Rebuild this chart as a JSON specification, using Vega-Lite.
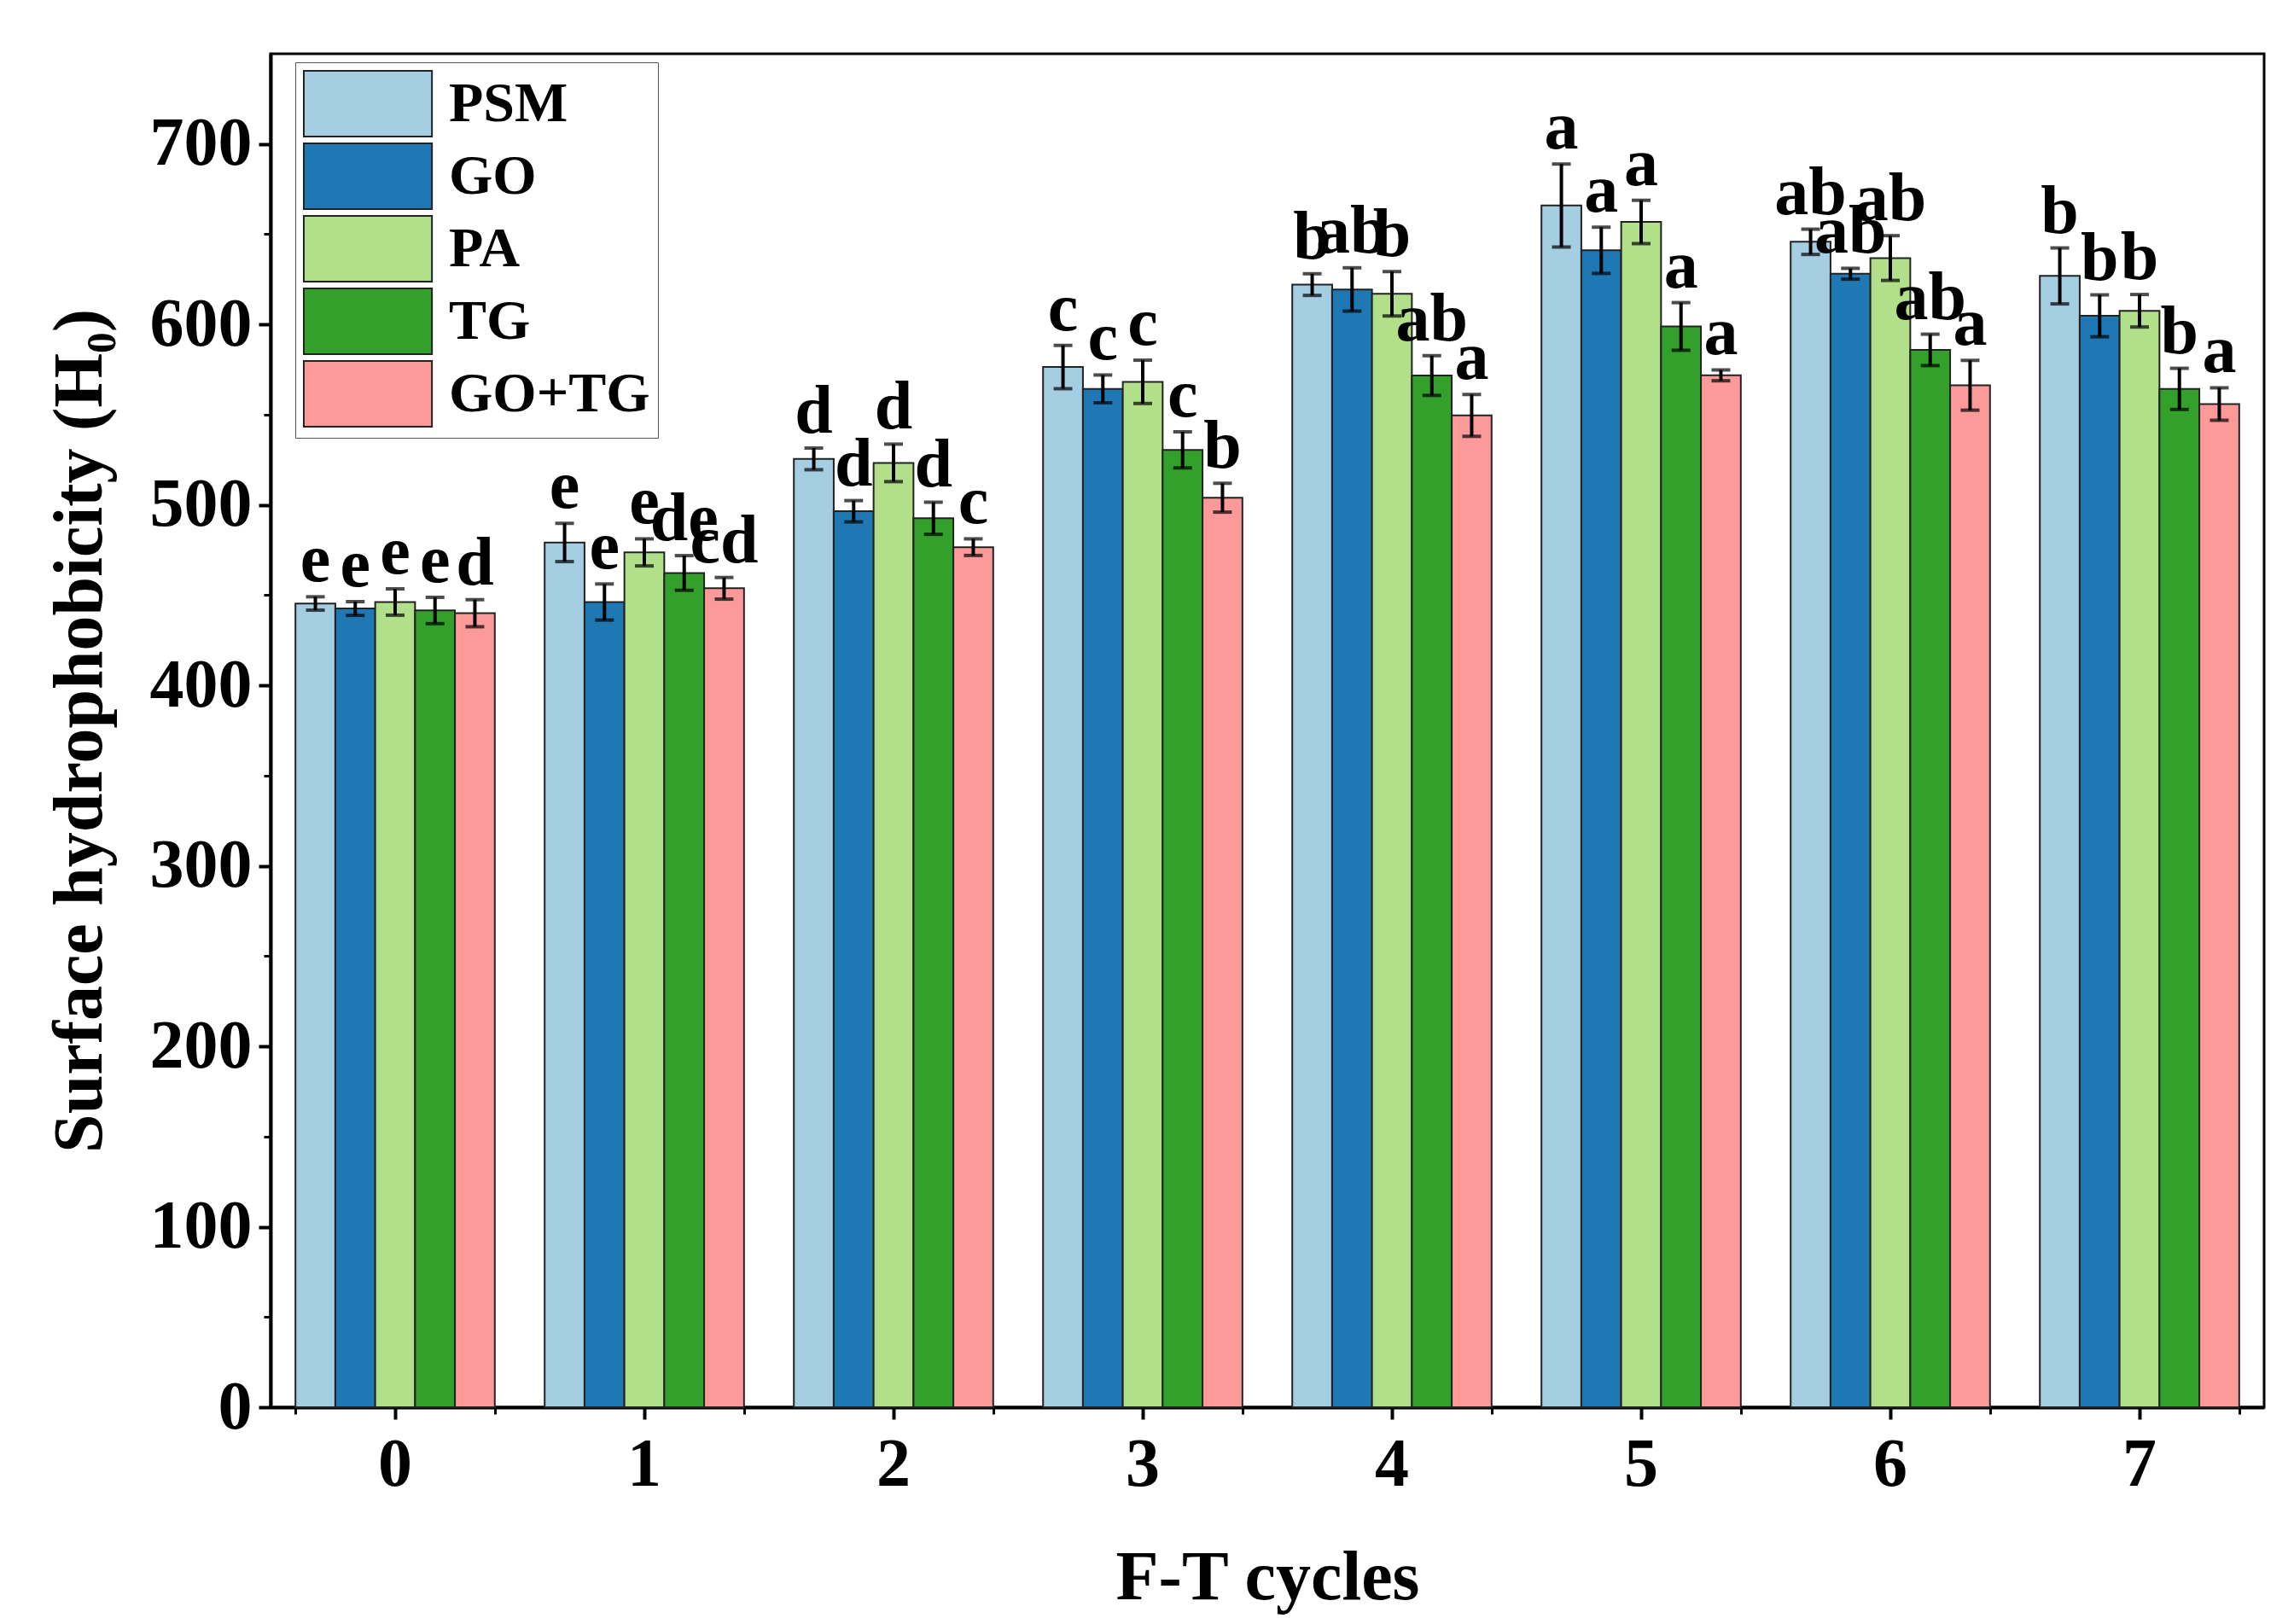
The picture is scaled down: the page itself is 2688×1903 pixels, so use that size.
{
  "$schema": "https://vega.github.io/schema/vega-lite/v6.json",
  "width": 2336,
  "height": 1586,
  "autosize": {"type": "none"},
  "padding": {"left": 317, "top": 63, "right": 35, "bottom": 254},
  "background": "white",
  "data": {
    "values": [
      {"cycle": "0", "group": "PSM", "mean": 445.4, "lo": 441.7, "hi": 449.1, "label": "e"},
      {"cycle": "0", "group": "GO", "mean": 442.6, "lo": 438.8, "hi": 446.4, "label": "e"},
      {"cycle": "0", "group": "PA", "mean": 446.2, "lo": 438.9, "hi": 453.5, "label": "e"},
      {"cycle": "0", "group": "TG", "mean": 441.5, "lo": 434.2, "hi": 448.8, "label": "e"},
      {"cycle": "0", "group": "GO+TG", "mean": 440.0, "lo": 432.5, "hi": 447.5, "label": "d"},
      {"cycle": "1", "group": "PSM", "mean": 479.2, "lo": 468.6, "hi": 489.8, "label": "e"},
      {"cycle": "1", "group": "GO", "mean": 446.2, "lo": 436.2, "hi": 456.2, "label": "e"},
      {"cycle": "1", "group": "PA", "mean": 473.7, "lo": 466.2, "hi": 481.2, "label": "e"},
      {"cycle": "1", "group": "TG", "mean": 462.3, "lo": 452.7, "hi": 471.9, "label": "de"},
      {"cycle": "1", "group": "GO+TG", "mean": 453.8, "lo": 447.8, "hi": 459.8, "label": "cd"},
      {"cycle": "2", "group": "PSM", "mean": 525.5, "lo": 519.5, "hi": 531.5, "label": "d"},
      {"cycle": "2", "group": "GO", "mean": 496.5, "lo": 490.6, "hi": 502.4, "label": "d"},
      {"cycle": "2", "group": "PA", "mean": 523.3, "lo": 512.9, "hi": 533.7, "label": "d"},
      {"cycle": "2", "group": "TG", "mean": 492.6, "lo": 483.7, "hi": 501.5, "label": "d"},
      {"cycle": "2", "group": "GO+TG", "mean": 476.6, "lo": 472.0, "hi": 481.2, "label": "c"},
      {"cycle": "3", "group": "PSM", "mean": 576.4, "lo": 564.4, "hi": 588.4, "label": "c"},
      {"cycle": "3", "group": "GO", "mean": 564.3, "lo": 556.6, "hi": 572.0, "label": "c"},
      {"cycle": "3", "group": "PA", "mean": 568.2, "lo": 556.2, "hi": 580.2, "label": "c"},
      {"cycle": "3", "group": "TG", "mean": 530.5, "lo": 520.5, "hi": 540.5, "label": "c"},
      {"cycle": "3", "group": "GO+TG", "mean": 504.0, "lo": 496.0, "hi": 512.0, "label": "b"},
      {"cycle": "4", "group": "PSM", "mean": 622.1, "lo": 616.1, "hi": 628.1, "label": "b"},
      {"cycle": "4", "group": "GO", "mean": 619.4, "lo": 607.4, "hi": 631.4, "label": "ab"},
      {"cycle": "4", "group": "PA", "mean": 617.0, "lo": 604.7, "hi": 629.3, "label": "b"},
      {"cycle": "4", "group": "TG", "mean": 571.7, "lo": 560.7, "hi": 582.7, "label": "ab"},
      {"cycle": "4", "group": "GO+TG", "mean": 549.6, "lo": 538.0, "hi": 561.2, "label": "a"},
      {"cycle": "5", "group": "PSM", "mean": 665.9, "lo": 642.9, "hi": 688.9, "label": "a"},
      {"cycle": "5", "group": "GO", "mean": 641.1, "lo": 628.3, "hi": 653.9, "label": "a"},
      {"cycle": "5", "group": "PA", "mean": 656.8, "lo": 644.8, "hi": 668.8, "label": "a"},
      {"cycle": "5", "group": "TG", "mean": 598.9, "lo": 585.7, "hi": 612.1, "label": "a"},
      {"cycle": "5", "group": "GO+TG", "mean": 571.8, "lo": 568.8, "hi": 574.8, "label": "a"},
      {"cycle": "6", "group": "PSM", "mean": 645.8, "lo": 638.8, "hi": 652.8, "label": "ab"},
      {"cycle": "6", "group": "GO", "mean": 628.1, "lo": 625.1, "hi": 631.1, "label": "ab"},
      {"cycle": "6", "group": "PA", "mean": 636.8, "lo": 624.4, "hi": 649.2, "label": "ab"},
      {"cycle": "6", "group": "TG", "mean": 585.9, "lo": 577.2, "hi": 594.6, "label": "ab"},
      {"cycle": "6", "group": "GO+TG", "mean": 566.3, "lo": 552.5, "hi": 580.1, "label": "a"},
      {"cycle": "7", "group": "PSM", "mean": 626.9, "lo": 611.4, "hi": 642.4, "label": "b"},
      {"cycle": "7", "group": "GO", "mean": 604.8, "lo": 593.2, "hi": 616.4, "label": "b"},
      {"cycle": "7", "group": "PA", "mean": 607.6, "lo": 598.6, "hi": 616.6, "label": "b"},
      {"cycle": "7", "group": "TG", "mean": 564.3, "lo": 552.9, "hi": 575.7, "label": "b"},
      {"cycle": "7", "group": "GO+TG", "mean": 555.9, "lo": 546.9, "hi": 564.9, "label": "a"}
    ]
  },
  "encoding": {
    "x": {
      "field": "cycle",
      "type": "nominal",
      "sort": ["0", "1", "2", "3", "4", "5", "6", "7"],
      "scale": {"paddingInner": 0.2, "paddingOuter": 0.1}
    },
    "xOffset": {
      "field": "group",
      "type": "nominal",
      "sort": ["PSM", "GO", "PA", "TG", "GO+TG"],
      "scale": {"paddingInner": 0, "paddingOuter": 0}
    }
  },
  "layer": [
    {
      "mark": {"type": "bar", "stroke": "#222", "strokeWidth": 2},
      "encoding": {
        "x": {
          "field": "cycle",
          "type": "nominal",
          "sort": ["0", "1", "2", "3", "4", "5", "6", "7"],
          "axis": {
            "orient": "bottom",
            "title": "F-T cycles",
            "labelAngle": 0,
            "tickSize": 14,
            "tickWidth": 4,
            "domainWidth": 4,
            "labelPadding": 14,
            "titlePadding": 52
          }
        },
        "y": {
          "field": "mean",
          "type": "quantitative",
          "scale": {"domain": [0, 750], "nice": false},
          "axis": {
            "orient": "left",
            "title": "Surface hydrophobicity (H₀)",
            "values": [0, 100, 200, 300, 400, 500, 600, 700],
            "grid": false,
            "tickSize": 14,
            "tickWidth": 4,
            "domainWidth": 4,
            "labelPadding": 8,
            "titlePadding": 40
          }
        },
        "color": {
          "field": "group",
          "type": "nominal",
          "sort": ["PSM", "GO", "PA", "TG", "GO+TG"],
          "scale": {
            "domain": ["PSM", "GO", "PA", "TG", "GO+TG"],
            "range": ["#a6cee3", "#1f78b4", "#b2df8a", "#33a02c", "#fb9a99"]
          },
          "legend": {
            "orient": "none",
            "legendX": 29,
            "legendY": 10,
            "title": null,
            "symbolType": "M-1,-1H2.9V1H-1Z",
            "symbolSize": 5929,
            "symbolStrokeColor": "#222",
            "symbolStrokeWidth": 2,
            "symbolOpacity": 1,
            "labelFontSize": 66,
            "labelFont": "Liberation Serif",
            "labelFontWeight": "bold",
            "labelColor": "black",
            "labelOffset": 92,
            "labelLimit": 500,
            "strokeColor": "#555",
            "fillColor": "white",
            "padding": 9,
            "rowPadding": 0
          }
        }
      }
    },
    {
      "mark": {"type": "rule", "color": "black", "strokeWidth": 4},
      "encoding": {
        "x": {
          "field": "cycle",
          "type": "nominal",
          "sort": ["0", "1", "2", "3", "4", "5", "6", "7"],
          "axis": {
            "orient": "bottom",
            "title": null,
            "labels": false,
            "domain": false,
            "tickBand": "extent",
            "tickSize": 8,
            "tickWidth": 3
          }
        },
        "y": {
          "field": "lo",
          "type": "quantitative",
          "axis": {
            "orient": "left",
            "title": null,
            "labels": false,
            "domain": false,
            "grid": false,
            "values": [50, 150, 250, 350, 450, 550, 650],
            "tickSize": 8,
            "tickWidth": 3
          }
        },
        "y2": {"field": "hi"}
      }
    },
    {
      "mark": {"type": "tick", "color": "black", "size": 22, "thickness": 4},
      "encoding": {
        "x": {"field": "cycle", "type": "nominal", "sort": ["0", "1", "2", "3", "4", "5", "6", "7"], "axis": null},
        "y": {"field": "lo", "type": "quantitative", "axis": null}
      }
    },
    {
      "mark": {"type": "tick", "color": "black", "size": 22, "thickness": 4},
      "encoding": {
        "x": {"field": "cycle", "type": "nominal", "sort": ["0", "1", "2", "3", "4", "5", "6", "7"], "axis": null},
        "y": {"field": "hi", "type": "quantitative", "axis": null}
      }
    },
    {
      "mark": {
        "type": "text",
        "font": "Liberation Serif",
        "fontWeight": "bold",
        "fontSize": 80,
        "baseline": "alphabetic",
        "dy": -18,
        "color": "black"
      },
      "encoding": {
        "x": {"field": "cycle", "type": "nominal", "sort": ["0", "1", "2", "3", "4", "5", "6", "7"], "axis": null},
        "y": {"field": "hi", "type": "quantitative", "axis": null},
        "text": {"field": "label"}
      }
    }
  ],
  "resolve": {"axis": {"x": "independent", "y": "independent"}},
  "config": {
    "font": "Liberation Serif",
    "view": {"stroke": "black", "strokeWidth": 3},
    "axis": {
      "labelFont": "Liberation Serif",
      "labelFontWeight": "bold",
      "labelFontSize": 80,
      "labelColor": "black",
      "titleFont": "Liberation Serif",
      "titleFontWeight": "bold",
      "titleFontSize": 82,
      "titleColor": "black",
      "domainColor": "black",
      "tickColor": "black"
    }
  }
}
